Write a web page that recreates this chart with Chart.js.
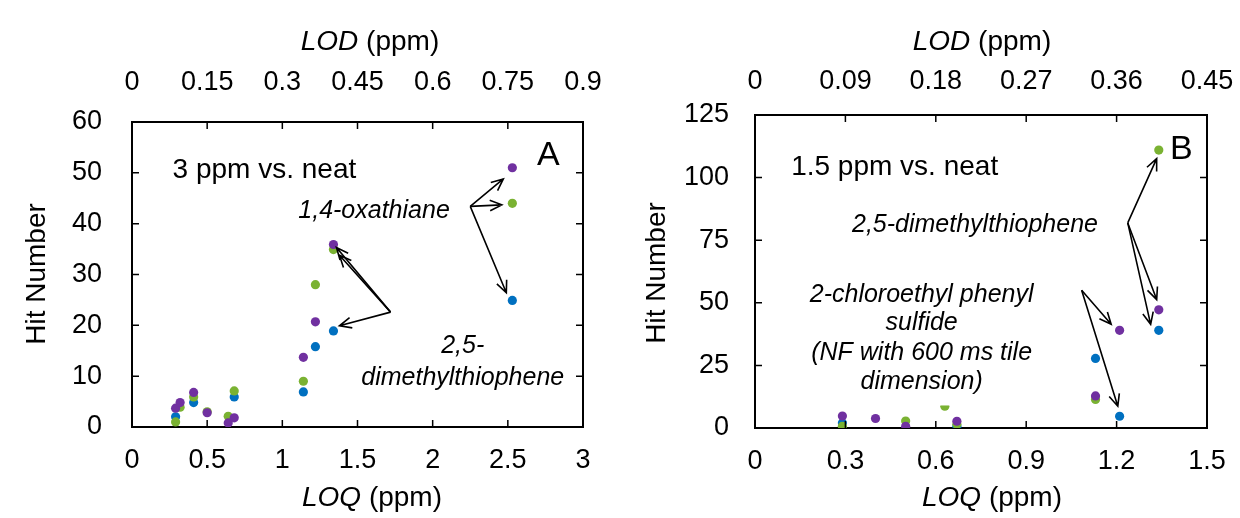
<!DOCTYPE html>
<html>
<head>
<meta charset="utf-8">
<script src="https://cdn.jsdelivr.net/npm/chart.js@4.4.1/dist/chart.umd.min.js"></script>
<style>
  html, body { margin: 0; padding: 0; background: #fff; }
  .panel { position: absolute; top: 0; width: 620px; height: 518px; }
  #panelA { left: 0; }
  #panelB { left: 620px; }
</style>
</head>
<body>
<div class="panel" id="panelA"><canvas id="chartA"></canvas></div>
<div class="panel" id="panelB"><canvas id="chartB"></canvas></div>
<script>
/* Hit number vs LOQ / LOD, two panels */

// panel A : 3 ppm vs. neat
const loqA    = [0.29, 0.32, 0.41, 0.50, 0.64, 0.68, 1.14, 1.22, 1.34, 2.53];
const blueA   = [2.0, null, 4.8, null, null, 5.9, 6.9, 15.8, 18.9, 24.9];
const greenA  = [1.0, 3.9, 5.9, 3.0, 2.1, 7.1, 9.0, 28.0, 34.9, 44.0];
const purpleA = [3.7, 4.8, 6.8, 2.8, 0.8, 1.8, 13.7, 20.7, 35.9, 51.0];
const loqTicksA = [0, 0.5, 1, 1.5, 2, 2.5, 3];
const lodTicksA = [0, 0.15, 0.3, 0.45, 0.6, 0.75, 0.9];
const hitTicksA = [0, 10, 20, 30, 40, 50, 60];

// panel B : 1.5 ppm vs. neat
const loqB    = [0.29, 0.40, 0.50, 0.63, 0.67, 1.13, 1.21, 1.34];
const blueB   = [2.0, null, null, null, 0.7, 27.8, 4.7, 39.0];
const greenB  = [0.7, null, 2.8, 8.7, 1.5, 11.4, null, 111.0];
const purpleB = [4.8, 3.8, 0.7, null, 2.7, 12.8, 39.0, 47.2];
const loqTicksB = [0, 0.3, 0.6, 0.9, 1.2, 1.5];
const lodTicksB = [0, 0.09, 0.18, 0.27, 0.36, 0.45];
const hitTicksB = [0, 25, 50, 75, 100, 125];

const BLUE = 'rgb(0, 112, 192)';
const GREEN = 'rgb(122, 178, 50)';
const PURPLE = 'rgb(112, 48, 160)';
const FONT = '"Liberation Sans", Arial, sans-serif';

function pts(xs, ys) {
  return xs.map((x, i) => ({ x: x, y: ys[i] }));
}

function useTicks(values) {
  return function (scale) { scale.ticks = values.map(v => ({ value: v })); };
}

// fixed axis box size, and no extra room for end labels
function fixedSize(px) {
  return function (scale) {
    if (scale.isHorizontal()) scale.height = px; else scale.width = px;
    scale.paddingLeft = scale.paddingRight = 0;
    scale.paddingTop = scale.paddingBottom = 0;
  };
}

function axis(position, min, max, tickValues, size, pad, showLabels) {
  return {
    type: 'linear',
    position: position,
    min: min,
    max: max,
    afterBuildTicks: useTicks(tickValues),
    afterFit: fixedSize(size),
    grid: { display: false, drawTicks: false },
    border: { display: true, color: '#000', width: 2 },
    ticks: {
      display: showLabels,
      autoSkip: false,
      maxRotation: 0,
      padding: pad,
      color: '#000',
      font: { family: FONT, size: 27 },
      callback: v => String(v)
    }
  };
}

// tick marks drawn inward on all four sides
const inwardTicks = {
  id: 'inwardTicks',
  afterDraw(chart) {
    const { ctx, chartArea: a, scales } = chart;
    const len = 7;
    ctx.save();
    ctx.strokeStyle = '#000';
    ctx.lineWidth = 1.5;
    ctx.beginPath();
    scales.x.ticks.forEach(t => {
      const p = scales.x.getPixelForValue(t.value);
      ctx.moveTo(p, a.bottom); ctx.lineTo(p, a.bottom - len);
    });
    scales.x2.ticks.forEach(t => {
      const p = scales.x2.getPixelForValue(t.value);
      ctx.moveTo(p, a.top); ctx.lineTo(p, a.top + len);
    });
    scales.y.ticks.forEach(t => {
      const p = scales.y.getPixelForValue(t.value);
      ctx.moveTo(a.left, p); ctx.lineTo(a.left + len, p);
      ctx.moveTo(a.right, p); ctx.lineTo(a.right - len, p);
    });
    ctx.stroke();
    ctx.restore();
  }
};

function mixedText(ctx, parts, cx, cy, size) {
  const widths = parts.map(([t, it]) => {
    ctx.font = (it ? 'italic ' : '') + size + 'px ' + FONT;
    return ctx.measureText(t).width;
  });
  let x = cx - widths.reduce((s, w) => s + w, 0) / 2;
  ctx.textAlign = 'left';
  ctx.textBaseline = 'middle';
  parts.forEach(([t, it], i) => {
    ctx.font = (it ? 'italic ' : '') + size + 'px ' + FONT;
    ctx.fillText(t, x, cy);
    x += widths[i];
  });
}

function arrow(ctx, x0, y0, x1, y1) {
  const ang = Math.atan2(y1 - y0, x1 - x0);
  const head = 13, spread = 0.42;
  ctx.beginPath();
  ctx.moveTo(x0, y0);
  ctx.lineTo(x1, y1);
  ctx.moveTo(x1 - head * Math.cos(ang - spread), y1 - head * Math.sin(ang - spread));
  ctx.lineTo(x1, y1);
  ctx.lineTo(x1 - head * Math.cos(ang + spread), y1 - head * Math.sin(ang + spread));
  ctx.stroke();
}

// titles, panel letters, labels and arrows
function notes(cfg) {
  return {
    id: 'notes',
    afterDatasetsDraw(chart) {
      const { ctx, scales: { x, y } } = chart;
      const px = v => x.getPixelForValue(v);
      const py = v => y.getPixelForValue(v);
      ctx.save();

      if (cfg.cover) {
        const c = cfg.cover;
        ctx.fillStyle = '#fff';
        ctx.fillRect(px(c.x0), py(c.y1), px(c.x1) - px(c.x0), py(c.y0) - py(c.y1));
      }

      ctx.fillStyle = '#000';
      cfg.texts.forEach(t => {
        ctx.font = (t.italic ? 'italic ' : '') + t.size + 'px ' + FONT;
        ctx.textAlign = t.align || 'center';
        ctx.textBaseline = 'middle';
        ctx.fillText(t.text, px(t.x), py(t.y));
      });

      ctx.strokeStyle = '#000';
      ctx.lineWidth = 1.6;
      cfg.arrows.forEach(a => {
        a.to.forEach(tip => arrow(ctx, px(a.from[0]), py(a.from[1]), px(tip[0]), py(tip[1])));
      });

      mixedText(ctx, [['LOD', true], [' (ppm)', false]], cfg.lodTitle[0], cfg.lodTitle[1], 28);
      mixedText(ctx, [['LOQ', true], [' (ppm)', false]], cfg.loqTitle[0], cfg.loqTitle[1], 28);

      ctx.translate(cfg.hitTitle[0], cfg.hitTitle[1]);
      ctx.rotate(-Math.PI / 2);
      ctx.font = '28px ' + FONT;
      ctx.textAlign = 'center';
      ctx.textBaseline = 'middle';
      ctx.fillText('Hit Number', 0, 0);
      ctx.restore();
    }
  };
}

function makeChart(id, d) {
  const dot = { pointRadius: 4.6, pointHoverRadius: 4.6, pointBorderWidth: 0, showLine: false };
  return new Chart(document.getElementById(id), {
    type: 'scatter',
    data: {
      datasets: [
        Object.assign({ label: 'purple', data: pts(d.loq, d.purple), backgroundColor: PURPLE, borderColor: PURPLE }, dot),
        Object.assign({ label: 'green', data: pts(d.loq, d.green), backgroundColor: GREEN, borderColor: GREEN }, dot),
        Object.assign({ label: 'blue', data: pts(d.loq, d.blue), backgroundColor: BLUE, borderColor: BLUE }, dot)
      ]
    },
    options: {
      responsive: true,
      maintainAspectRatio: false,
      animation: false,
      devicePixelRatio: 1,
      layout: { padding: 0 },
      plugins: { legend: { display: false }, tooltip: { enabled: false } },
      scales: {
        x: axis('bottom', 0, d.loqTicks[d.loqTicks.length - 1], d.loqTicks, d.size.bottom, 17, true),
        x2: axis('top', 0, d.lodTicks[d.lodTicks.length - 1], d.lodTicks, d.size.top, d.topPad, true),
        y: axis('left', 0, d.hitTicks[d.hitTicks.length - 1], d.hitTicks, d.size.left, d.yPad, true),
        y2: axis('right', 0, d.hitTicks[d.hitTicks.length - 1], d.hitTicks, d.size.right, 0, false)
      }
    },
    plugins: [inwardTicks, notes(d.notes)]
  });
}

makeChart('chartA', {
  loq: loqA, blue: blueA, green: greenA, purple: purpleA,
  loqTicks: loqTicksA, lodTicks: lodTicksA, hitTicks: hitTicksA,
  size: { left: 132, right: 37, top: 122, bottom: 91 },
  yPad: 30,
  topPad: 23,
  notes: {
    texts: [
      { text: '3 ppm vs. neat', x: 0.27, y: 50.5, size: 28, align: 'left' },
      { text: 'A', x: 2.77, y: 53.3, size: 34 },
      { text: '1,4-oxathiane', x: 1.61, y: 42.4, size: 25, italic: true },
      { text: '2,5-', x: 2.2, y: 16.0, size: 25, italic: true },
      { text: 'dimethylthiophene', x: 2.2, y: 9.7, size: 25, italic: true }
    ],
    arrows: [
      { from: [2.25, 43.4], to: [[2.47, 48.8], [2.46, 43.7], [2.49, 26.4]] },
      { from: [1.72, 22.6], to: [[1.36, 35.3], [1.38, 33.8], [1.38, 19.9]] }
    ],
    lodTitle: [370, 42],
    loqTitle: [372, 498],
    hitTitle: [37, 274]
  }
});

makeChart('chartB', {
  loq: loqB, blue: blueB, green: greenB, purple: purpleB,
  loqTicks: loqTicksB, lodTicks: lodTicksB, hitTicks: hitTicksB,
  size: { left: 135, right: 33, top: 115, bottom: 90 },
  yPad: 26,
  topPad: 17,
  notes: {
    cover: { x0: 0.22, x1: 0.88, y0: 9.0, y1: 60 },
    texts: [
      { text: '1.5 ppm vs. neat', x: 0.12, y: 104.3, size: 28, align: 'left' },
      { text: 'B', x: 1.415, y: 111, size: 34 },
      { text: '2,5-dimethylthiophene', x: 0.73, y: 81, size: 25, italic: true },
      { text: '2-chloroethyl phenyl', x: 0.553, y: 53, size: 25, italic: true },
      { text: 'sulfide', x: 0.553, y: 42.1, size: 25, italic: true },
      { text: '(NF with 600 ms tile', x: 0.553, y: 30, size: 25, italic: true },
      { text: 'dimension)', x: 0.553, y: 18.5, size: 25, italic: true }
    ],
    arrows: [
      { from: [1.237, 81.9], to: [[1.333, 107.6], [1.333, 51.3], [1.313, 41.4]] },
      { from: [1.084, 55], to: [[1.182, 41.4], [1.204, 8.7]] }
    ],
    lodTitle: [362, 42],
    loqTitle: [372, 498],
    hitTitle: [37, 273]
  }
});
</script>
</body>
</html>
